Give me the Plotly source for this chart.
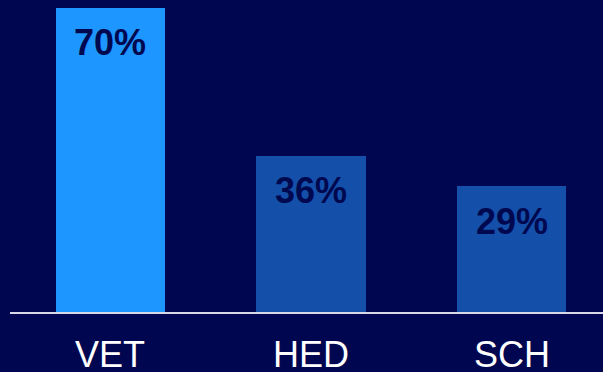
import plotly.graph_objects as go

categories = ["VET", "HED", "SCH"]
values = [70, 36, 29]
labels = ["70%", "36%", "29%"]
bar_colors = ["#1E96FF", "#1450AA", "#1450AA"]

BG = "#000650"

fig = go.Figure()
fig.add_trace(go.Bar(
    x=categories, y=values,
    marker=dict(color=bar_colors, line=dict(width=0)),
    width=0.545,
    hoverinfo="skip",
))

for c, v, t in zip(categories, values, labels):
    fig.add_annotation(x=c, y=v, text=t, showarrow=False, yanchor="middle",
                       yshift=-35,
                       font=dict(family="Liberation Sans, Arial", size=36, color="#000850", weight="bold"))
    fig.add_annotation(x=c, y=0, text=c, showarrow=False, yanchor="top",
                       yshift=-20,
                       font=dict(family="Liberation Sans, Arial", size=36, color="#FFFFFF"))

fig.update_layout(
    width=603, height=372,
    margin=dict(l=10, r=0, t=0, b=60),
    paper_bgcolor=BG, plot_bgcolor=BG,
    showlegend=False,
    bargap=0,
    xaxis=dict(type="category", range=[-0.5, 2.455], showline=True, linecolor="#D8D8E8",
               linewidth=2, showticklabels=False, showgrid=False, zeroline=False, ticks=""),
    yaxis=dict(range=[0, 71.84], visible=False, showgrid=False, zeroline=False),
)

fig.write_html("out.html", config={"displayModeBar": False},
               post_script="document.body.style.margin='0';document.body.style.background='%s';" % BG)
